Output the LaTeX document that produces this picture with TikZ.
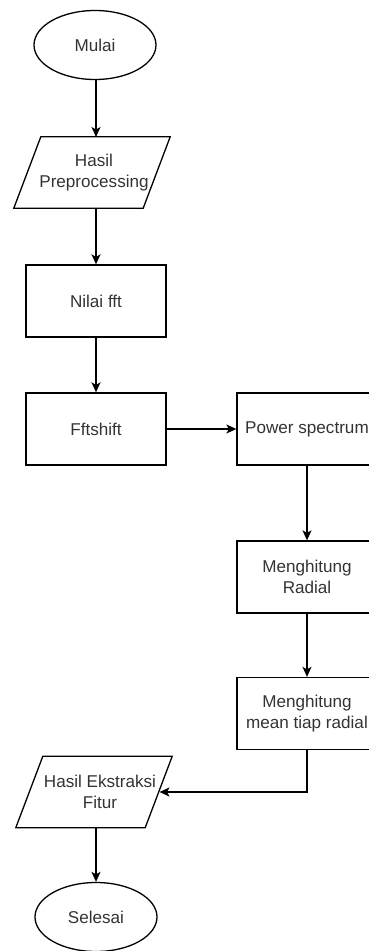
\documentclass[tikz,border=0pt]{standalone}
\usepackage{fontspec}
\setmainfont[Ligatures=CommonOff]{Liberation Sans}
\usetikzlibrary{arrows.meta,shapes.geometric,calc}
\begin{document}
\begin{tikzpicture}[x=1pt,y=-1pt,
  line/.style={line width=1.3pt, draw=black},
  flow/.style={line, -{Stealth[length=10pt,width=9pt,inset=2.5pt]}},
  txt/.style={font=\fontsize{17.1}{21}\selectfont, text=black!80, align=center},
  terminal/.style={line, ellipse, txt, minimum width=122pt, minimum height=69pt, inner sep=0pt},
  process/.style={line, rectangle, txt, minimum width=140pt, minimum height=72pt, inner sep=0pt},
  iobox/.style={txt, minimum width=129pt, minimum height=71pt, inner sep=0pt}]
\useasboundingbox (0,0) rectangle (369,951);

% terminals
\node[terminal] (start) at (95,45) {Mulai};
\node[terminal] (stop) at (96,917) {Selesai};

% input / output boxes (parallelograms drawn around text nodes)
\node[iobox] (hp) at (92,172.5) {};
\node[txt] (hptxt) at (94,172.5) {Hasil\\Preprocessing};
\draw[line] ([xshift=-13.5pt]hp.south west) -- ([xshift=13.5pt]hp.north west)
  -- ([xshift=13.5pt]hp.north east) -- ([xshift=-13.5pt]hp.south east) -- cycle;

\node[iobox] (he) at (94,792) {};
\node[txt] (hetxt) at (100,792) {Hasil Ekstraksi\\Fitur};
\draw[line] ([xshift=-13.5pt]he.south west) -- ([xshift=13.5pt]he.north west)
  -- ([xshift=13.5pt]he.north east) -- ([xshift=-13.5pt]he.south east) -- cycle;

% processes
\node[process] (fft) at (96,301) {Nilai fft};
\node[process] (shift) at (96,429) {Fftshift};
\node[process] (ps) at (307,429) {Power spectrum};
\node[process] (rad) at (307,577) {Menghitung\\Radial};
\node[process] (mean) at (307,713.5) {Menghitung\\mean tiap radial};

% connectors
\coordinate (hpin) at (96,137);
\coordinate (hpout) at (96,208);
\coordinate (hein) at (159.5,792);
\coordinate (heout) at (96,827.5);
\draw[flow] (start.south -| hpin) -- (hpin);
\draw[flow] (hpout) -- (fft.north);
\draw[flow] (fft) -- (shift);
\draw[flow] (shift) -- (ps);
\draw[flow] (ps) -- (rad);
\draw[flow] (rad) -- (mean);
\draw[flow] (mean.south) |- (hein);
\draw[flow] (heout) -- (stop.north);
\end{tikzpicture}
\end{document}
